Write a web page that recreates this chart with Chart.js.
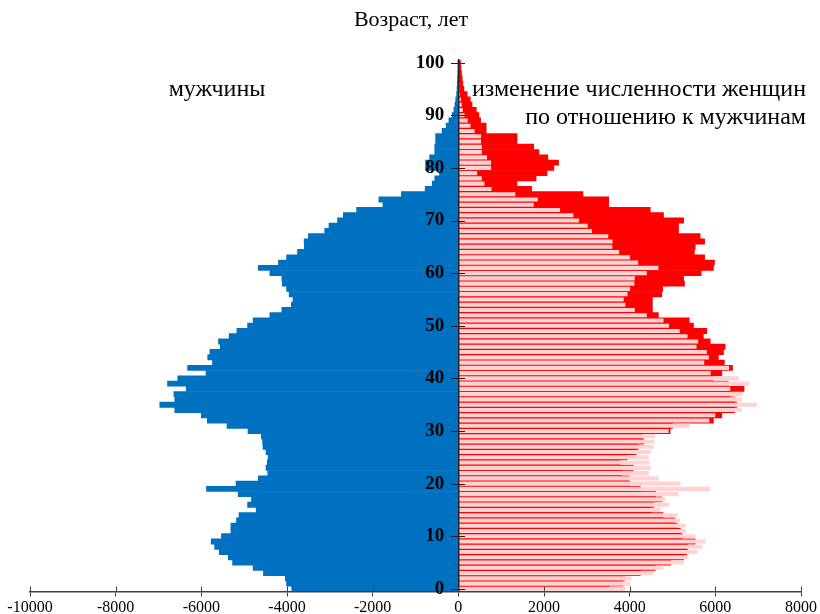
<!DOCTYPE html>
<html lang="ru">
<head>
<meta charset="utf-8">
<title>Возрастная пирамида</title>
<script src="https://cdn.jsdelivr.net/npm/chart.js@4.4.1/dist/chart.umd.min.js"></script>
<style>
    html, body { margin: 0; padding: 0; background: #fff; }
    #wrap { position: relative; width: 820px; height: 614px; }
</style>
</head>
<body>
<div id="wrap"><canvas id="myChart" width="820" height="614"></canvas></div>
<script>
// ages 0..100 (category labels on the vertical axis)
const ages = [];
for (let a = 0; a <= 100; a++) ages.push(String(a));

// men by age, people (drawn to the left)
const men = [
    3890, 4010, 4040, 4550, 4790, 5270, 5370, 5580, 5690, 5770,
    5530, 5310, 5310, 5180, 5120, 4720, 4920, 4830, 5140, 5880,
    5190, 4670, 4450, 4490, 4460, 4440, 4490, 4560, 4570, 4600,
    4910, 5400, 5860, 6000, 6620, 6970, 6620, 6640, 6350, 6790,
    6550, 5890, 6320, 5740, 5850, 5800, 5560, 5600, 5350, 5170,
    4920, 4790, 4400, 4120, 3900, 3860, 3950, 4010, 4110, 4120,
    4400, 4670, 4200, 4010, 3755, 3595, 3600, 3500, 3120, 3020,
    2820, 2685, 2375, 1760, 1855, 1330, 775, 610, 550, 440,
    765, 765, 670, 550, 550, 530, 530, 380, 285, 220,
    145, 105, 80, 60, 40, 30, 25, 20, 15, 10,
    8
];

// women by age, people (drawn to the right, red)
const women = [
    3530, 3840, 3880, 4250, 4600, 4960, 5260, 5330, 5350, 5530,
    5220, 5185, 5110, 5050, 4780, 4490, 4570, 4755, 4610, 4250,
    4000, 3990, 3820, 4085, 3780, 3940, 4150, 4200, 4330, 4300,
    4945, 5000, 5955, 6150, 6450, 6500, 6450, 6350, 6670, 6300,
    5950, 6150, 6400, 6210, 6070, 6190, 6230, 5880, 5720, 5800,
    5490, 5390, 4670, 4530, 4530, 4530, 4750, 4770, 5280, 5260,
    5670, 5955, 5980, 5750, 5510, 5530, 5750, 5645, 5140, 5140,
    5260, 4790, 4480, 3510, 3510, 2910, 1710, 1370, 1815, 2070,
    2230, 2340, 2090, 1880, 1760, 1370, 1370, 650, 650, 520,
    480, 420, 320, 280, 205, 130, 105, 90, 75, 60,
    50
];

// tick labels
const xTicks = [-10000, -8000, -6000, -4000, -2000, 0, 2000, 4000, 6000, 8000];
const yTickAges = [0, 10, 20, 30, 40, 50, 60, 70, 80, 90, 100];

const serif = '"Liberation Serif", "Times New Roman", serif';

// texts and the tick marks that cross the axes
const extras = {
    id: "extras",
    afterDraw(chart) {
        const ctx = chart.ctx;
        const xs = chart.scales.x;
        const ys = chart.scales.y;
        ctx.save();
        ctx.lineWidth = 1;
        ctx.strokeStyle = "#404040";
        xTicks.forEach(v => {
            let px = Math.round(xs.getPixelForValue(v)) + 0.5;
            ctx.beginPath();
            ctx.moveTo(px, xs.top);
            ctx.lineTo(px, xs.top - 5);
            ctx.stroke();
        });
        let x0 = Math.round(xs.getPixelForValue(0));
        ctx.strokeStyle = "#202020";
        yTickAges.forEach(a => {
            let py = Math.round(ys.getPixelForValue(String(a))) + 0.5;
            ctx.beginPath();
            ctx.moveTo(x0 - 7, py);
            ctx.lineTo(x0 + 7, py);
            ctx.stroke();
        });

        ctx.fillStyle = "#000";
        ctx.textBaseline = "middle";
        ctx.textAlign = "center";
        ctx.font = "22px " + serif;
        ctx.fillText("Возраст, лет", 411, 20);
        ctx.font = "24px " + serif;
        ctx.fillText("мужчины", 217, 90);
        ctx.textAlign = "right";
        ctx.fillText("изменение численности женщин", 806, 90);
        ctx.fillText("по отношению к мужчинам", 806, 118);
        ctx.restore();
    }
};

new Chart(document.getElementById("myChart"), {
    type: "bar",
    data: {
        labels: ages,
        datasets: [
            {
                label: "мужчины",
                data: men.map(v => -v),
                backgroundColor: "#0070C0",
                barPercentage: 1,
                categoryPercentage: 1,
                order: 2,
            },
            {
                label: "женщины",
                data: women,
                backgroundColor: "#FF0000",
                barPercentage: 1,
                categoryPercentage: 1,
                order: 1,
            },
            {
                label: "мужчины (зеркально)",
                data: men,
                backgroundColor: "#FFD3D3",
                barPercentage: 0.78,
                categoryPercentage: 1,
                order: 0,
            },
        ],
    },
    options: {
        indexAxis: "y",
        responsive: false,
        animation: false,
        devicePixelRatio: 1,
        datasets: { bar: { grouped: false, borderWidth: 0 } },
        layout: { padding: { top: 60, left: 30, right: 17, bottom: -4.5 } },
        plugins: {
            legend: { display: false },
            tooltip: { enabled: false },
        },
        scales: {
            x: {
                type: "linear",
                min: xTicks[0],
                max: xTicks[xTicks.length - 1],
                afterBuildTicks: axis => {
                    axis.ticks = xTicks.map(v => ({ value: v }));
                },
                grid: { drawOnChartArea: false, drawTicks: true, tickLength: 5, color: "#404040" },
                border: { color: "#404040", width: 1.5, z: 1 },
                ticks: {
                    color: "#000",
                    padding: 3,
                    maxRotation: 0,
                    font: { family: serif, size: 16, lineHeight: 1 },
                    callback: v => String(v),
                },
            },
            // axis line at zero
            y: {
                type: "category",
                reverse: true,
                position: { x: 0 },
                grid: { display: false },
                border: { color: "#1a2330", width: 1.5, z: 1 },
                ticks: { display: false },
            },
            // age labels, a little left of the axis line
            yLabels: {
                type: "category",
                axis: "y",
                reverse: true,
                position: { x: -330 },
                grid: { display: false },
                border: { display: false },
                ticks: {
                    autoSkip: false,
                    padding: 0,
                    color: "#000",
                    z: 1,
                    font: { family: serif, size: 19, weight: "bold" },
                    callback: function (value) {
                        let label = this.getLabelForValue(value);
                        return yTickAges.includes(Number(label)) ? label : null;
                    },
                },
            },
        },
    },
    plugins: [extras],
});
</script>
</body>
</html>
